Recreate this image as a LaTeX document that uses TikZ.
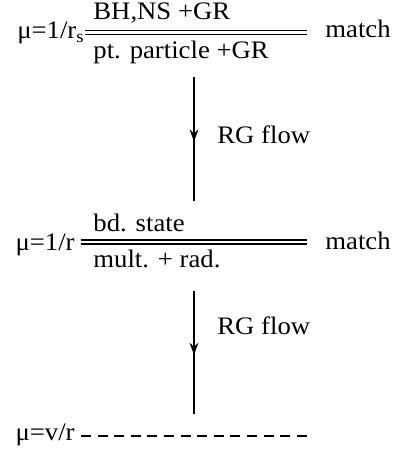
\documentclass[tikz,border=0pt]{standalone}
\usepackage{fontspec}
\setmainfont{Liberation Serif}[FakeStretch=1.06]
\usetikzlibrary{positioning}
\usetikzlibrary{decorations.markings}
\usetikzlibrary{arrows.meta}

\tikzset{
  txt/.style={inner sep=0pt, font=\fontsize{12.6}{15}\selectfont},
  matchline/.style={double, double distance=1.4pt, line width=0.6pt},
  flow/.style={line width=0.7pt, decoration={markings, mark=at position 0.52 with {\arrow{Stealth[length=6pt,width=4.4pt]}}}, postaction={decorate}},
  cutoff/.style={line width=0.6pt, dash pattern=on 5pt off 3.3pt}
}

\begin{document}
\begin{tikzpicture}[x=0.5pt,y=0.5pt]
\useasboundingbox (0,0) rectangle (396,453);

% scale 1/r_s
\node[txt, anchor=base east] (mus) at (85,414) {μ=1/r\textsubscript{s}};
\node[txt, anchor=base west] (bhns) at (93,433) {BH,NS +GR};
\node[txt, anchor=base west] (ptpart) at (93,394) {pt. particle +GR};
\node[txt, anchor=base west] (matchone) at (325,415) {match};
\coordinate (lineone l) at (85,420.5);
\coordinate (lineone r) at (307,420.5);
\draw[matchline] (lineone l) -- (lineone r);

\coordinate (flowone top) at (194,376);
\coordinate (flowone bot) at (194,252);
\draw[flow] (flowone top) -- (flowone bot);
\node[txt, anchor=base west] (rgone) at (217,309) {RG flow};

% scale 1/r
\node[txt, anchor=base east] (mur) at (75,202) {μ=1/r};
\node[txt, anchor=base west] (bdstate) at (93,221) {bd. state};
\node[txt, anchor=base west] (multrad) at (93,185) {mult. + rad.};
\node[txt, anchor=base west] (matchtwo) at (325,203) {match};
\coordinate (linetwo l) at (81,211);
\coordinate (linetwo r) at (307,211);
\draw[matchline] (linetwo l) -- (linetwo r);

\coordinate (flowtwo top) at (194,162.3);
\coordinate (flowtwo bot) at (194,39);
\draw[flow] (flowtwo top) -- (flowtwo bot);
\node[txt, anchor=base west] (rgtwo) at (217,118) {RG flow};

% scale v/r
\node[txt, anchor=base east] (muv) at (75,12) {μ=v/r};
\coordinate (cut l) at (81,17);
\coordinate (cut r) at (307,17);
\draw[cutoff] (cut l) -- (cut r);

\end{tikzpicture}
\end{document}
